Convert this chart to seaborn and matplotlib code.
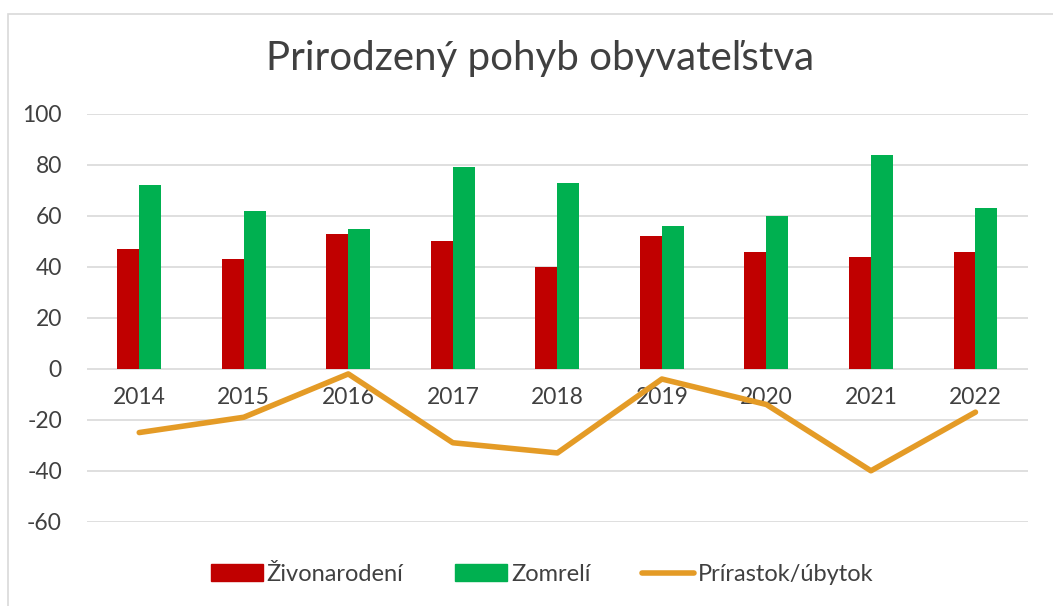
import pandas as pd
import numpy as np
import matplotlib.pyplot as plt
import seaborn as sns
from matplotlib.patches import Rectangle
from matplotlib.lines import Line2D

# data
years = ['2014', '2015', '2016', '2017', '2018', '2019', '2020', '2021', '2022']
zivonarodeni = [47, 43, 53, 50, 40, 52, 46, 44, 46]
zomreli = [72, 62, 55, 79, 73, 56, 60, 84, 63]
prirastok = [-25, -19, -2, -29, -33, -4, -14, -40, -17]

series_names = ['Živonarodení', 'Zomrelí', 'Prírastok/úbytok']
bar_colors = ['#C00000', '#00B050']
line_color = '#E49B26'
text_color = '#404040'

sns.set_theme(style='white')
plt.rcParams['font.family'] = ['Lato', 'DejaVu Sans']
plt.rcParams['axes.unicode_minus'] = False

df = pd.DataFrame({
    'rok': years * 2,
    'hodnota': zivonarodeni + zomreli,
    'séria': [series_names[0]] * len(years) + [series_names[1]] * len(years),
})

fig = plt.figure(figsize=(10.53, 6.06), dpi=100)
ax = fig.add_axes([0.0826, 0.139, 0.8934, 0.673])

sns.barplot(data=df, x='rok', y='hodnota', hue='séria', palette=bar_colors,
            width=0.42, gap=0, ax=ax, legend=False, saturation=1,
            edgecolor='none')
sns.lineplot(x=np.arange(len(years)), y=prirastok, color=line_color,
             linewidth=4, ax=ax, solid_capstyle='round')

ax.set_ylim(-60, 100)
ax.set_xlim(-0.5, len(years) - 0.5)
ax.set_yticks(range(-60, 101, 20))
ax.yaxis.grid(True, color='#D9D9D9', linewidth=1.2)
ax.set_axisbelow(True)
for s in ax.spines.values():
    s.set_visible(False)
ax.spines['bottom'].set_position(('data', 0))
ax.tick_params(axis='x', length=0, pad=13, labelsize=16.5, labelcolor=text_color)
ax.tick_params(axis='y', length=0, pad=18, labelsize=16.5, labelcolor=text_color)
ax.set_xlabel('')
ax.set_ylabel('')

fig.text(0.513, 0.903, 'Prirodzený pohyb obyvateľstva', ha='center', va='center',
         fontsize=29, color=text_color)

handles = [
    Rectangle((0, 0), 1, 1, color=bar_colors[0]),
    Rectangle((0, 0), 1, 1, color=bar_colors[1]),
    Line2D([0], [0], color=line_color, linewidth=4, solid_capstyle='round'),
]
fig.legend(handles, series_names, loc='center', bbox_to_anchor=(0.515, 0.052),
           ncol=3, frameon=False, fontsize=17, labelcolor=text_color,
           handlelength=2.2, handleheight=0.75, handletextpad=0.15, columnspacing=2.2)

# chart area border
fig.patches.append(Rectangle((8 / 1053, -0.1), 1.2, 1 - 14 / 606 + 0.1,
                             transform=fig.transFigure, fill=False,
                             edgecolor='#D9D9D9', linewidth=1.2))

fig.savefig('out.png', dpi=100)
